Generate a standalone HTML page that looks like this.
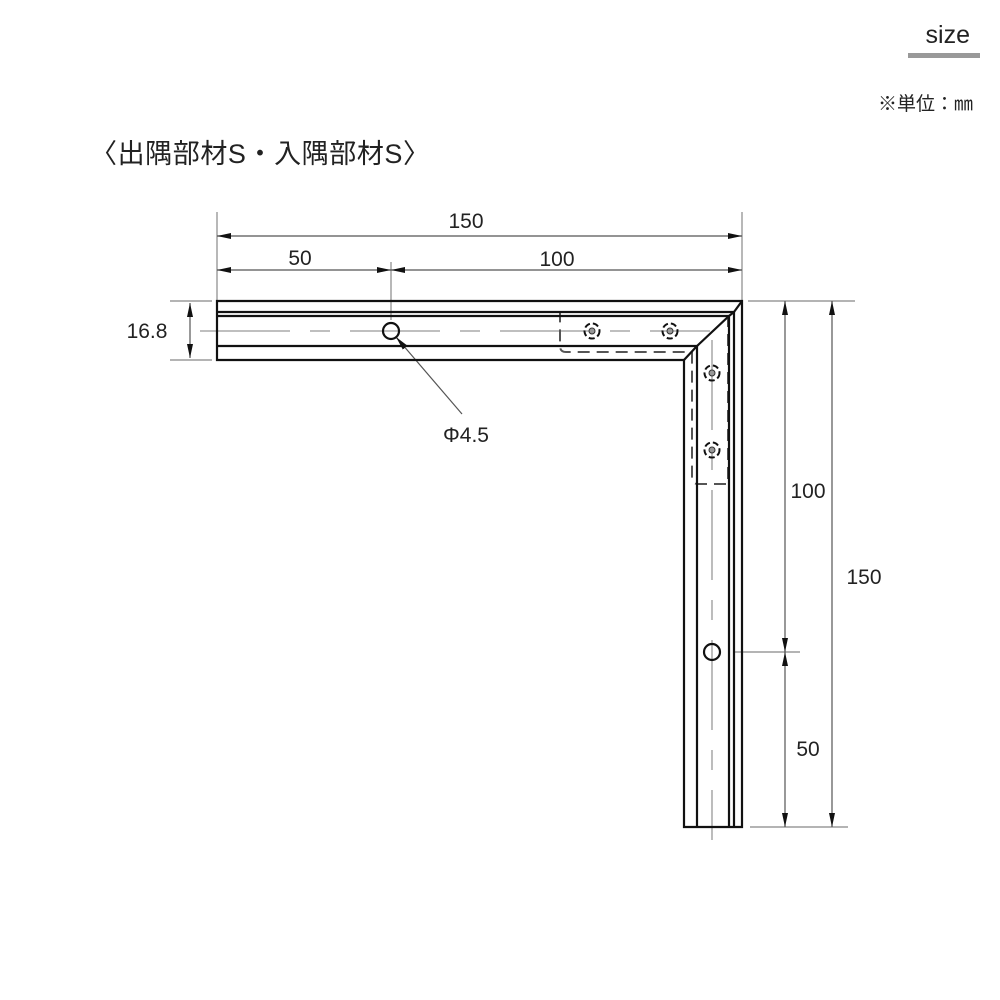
<!DOCTYPE html><html><head><style>body{margin:0;background:#fff}svg{display:block}text{font-family:"Liberation Sans","Noto Sans CJK JP",sans-serif;fill:#222}</style></head><body>
<svg width="1000" height="1000" viewBox="0 0 1000 1000">
<defs><marker id="a" viewBox="0 0 14 6" refX="14" refY="3" markerWidth="14" markerHeight="6" orient="auto-start-reverse" markerUnits="userSpaceOnUse"><path d="M0,0L14,3L0,6z" fill="#111"/></marker>
<g id="bolt"><circle r="3" fill="#999" stroke="#333" stroke-width="1"/><circle r="7.5" fill="none" stroke="#111" stroke-width="2" stroke-dasharray="6 3"/></g></defs>
<text x="970" y="43" font-size="25" text-anchor="end">size</text>
<rect x="908" y="53" width="72" height="5" fill="#999"/>
<text x="973" y="110" font-size="19" text-anchor="end">※単位：㎜</text>
<text x="90" y="163" font-size="27" textLength="340">〈出隅部材S・入隅部材S〉</text>
<g stroke="#888" stroke-width="1.2" fill="none">
<line x1="217" y1="212" x2="217" y2="300"/><line x1="742" y1="212" x2="742" y2="300"/><line x1="391" y1="262" x2="391" y2="320"/>
<line x1="170" y1="301" x2="212" y2="301"/><line x1="170" y1="360" x2="212" y2="360"/>
<line x1="748" y1="301" x2="855" y2="301"/><line x1="750" y1="827" x2="848" y2="827"/><line x1="733" y1="652" x2="800" y2="652"/>
</g>
<g stroke="#555" stroke-width="1.2" fill="none">
<line x1="217" y1="236" x2="742" y2="236" marker-start="url(#a)" marker-end="url(#a)"/>
<line x1="217" y1="270" x2="391" y2="270" marker-start="url(#a)" marker-end="url(#a)"/>
<line x1="391" y1="270" x2="742" y2="270" marker-start="url(#a)" marker-end="url(#a)"/>
<line x1="190" y1="303" x2="190" y2="358" marker-start="url(#a)" marker-end="url(#a)"/>
<line x1="785" y1="301" x2="785" y2="652" marker-start="url(#a)" marker-end="url(#a)"/>
<line x1="785" y1="652" x2="785" y2="827" marker-start="url(#a)" marker-end="url(#a)"/>
<line x1="832" y1="301" x2="832" y2="827" marker-start="url(#a)" marker-end="url(#a)"/>
<line x1="396" y1="337" x2="462" y2="414" marker-start="url(#a)"/>
</g>
<g font-size="21" text-anchor="middle">
<text x="466" y="228">150</text><text x="300" y="265">50</text><text x="557" y="266">100</text>
<text x="147" y="338">16.8</text><text x="466" y="442">Φ4.5</text>
<text x="808" y="498">100</text><text x="864" y="584">150</text><text x="808" y="756">50</text>
</g>
<g stroke="#999" stroke-width="1.3" fill="none">
<line x1="200" y1="331" x2="710" y2="331" stroke-dasharray="90 20 20 20"/>
<line x1="712" y1="340" x2="712" y2="840" stroke-dasharray="90 20 20 20"/>
</g>
<g stroke="#555" stroke-width="2" fill="none" stroke-dasharray="12 7">
<path d="M560,312 H728 V484 H698 Q692,484 692,478 V352 H566 Q560,352 560,346 Z"/>
</g>
<g stroke="#111" stroke-width="2.2" fill="none">
<path d="M217,301 H742 V827 H684 V360 H217 Z"/>
<path d="M217,312 H734 M217,316 H729 M217,346 H697 L684,360"/>
<path d="M697,346 V827 M729,316 V827 M734,312 V827"/>
<path d="M742,301 L734,312 L729,316 L697,346"/>
<circle cx="391" cy="331" r="8"/><circle cx="712" cy="652" r="8"/>
</g>
<use href="#bolt" x="592" y="331"/><use href="#bolt" x="670" y="331"/>
<use href="#bolt" x="712" y="373"/><use href="#bolt" x="712" y="450"/>
</svg></body></html>
